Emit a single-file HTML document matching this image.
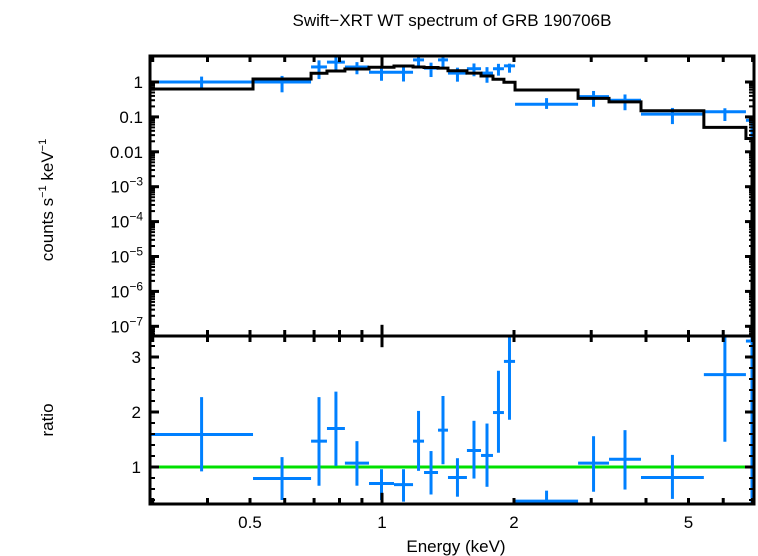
<!DOCTYPE html>
<html><head><meta charset="utf-8"><style>
body{margin:0;background:#fff;}
svg{display:block;font-family:"Liberation Sans",sans-serif;}
</style></head><body>
<svg id="c" width="758" height="556"></svg>
<script>
// bin edges (keV) and data
const binLo=[0.296,0.508,0.689,0.749,0.823,0.934,1.065,1.177,1.247,1.342,1.414,1.562,1.682,1.791,1.897,2.011,2.80,3.294,3.896,5.42,6.76];
const binHi=[0.508,0.689,0.749,0.823,0.934,1.065,1.177,1.247,1.342,1.414,1.562,1.682,1.791,1.897,2.011,2.80,3.294,3.896,5.42,6.76,7.3];
const fluxVals=[1.0,1.0,2.7,3.7,2.7,1.9,1.9,4.3,2.5,4.3,1.8,2.4,1.8,2.4,2.9,0.23,0.38,0.30,0.12,0.14,0.08];
const modelVals=[0.63,1.22,1.78,2.07,2.36,2.64,2.87,2.7,2.6,2.5,2.1,1.8,1.49,1.2,0.98,0.59,0.34,0.27,0.15,0.050,0.024];
const ratioVals=[1.59,0.79,1.47,1.70,1.07,0.70,0.68,1.47,0.90,1.67,0.81,1.30,1.21,1.99,2.92,0.38,1.07,1.14,0.81,2.68,3.29];
const ratioHi=[2.27,1.18,2.27,2.37,1.47,0.96,0.96,2.02,1.29,2.29,1.16,1.84,1.79,2.75,3.38,0.57,1.56,1.67,1.22,3.38,3.5];
const ratioLo=[0.92,0.40,0.66,1.02,0.66,0.40,0.37,0.93,0.50,1.05,0.46,0.79,0.64,1.26,1.86,0.28,0.55,0.59,0.42,1.46,0.0];
const xTicks=[0.5,1,2,5];
const xTickLabels=["0.5","1","2","5"];
const yTickExp=[0,-1,-2,-3,-4,-5,-6,-7];
const ratioTicks=[1,2,3];
</script>
<script>
const svg=document.getElementById('c');
const NS='http://www.w3.org/2000/svg';
const L=150,R=754,T=56,M=336,B=504;
const X=e=>382+438.5*Math.log10(e);
const Yt=v=>82-34.9*Math.log10(v);
const Yr=r=>467-55*(r-1);
const clampT=y=>Math.max(T,Math.min(M,y));
const clampB=y=>Math.max(M,Math.min(B,y));
const clampX=x=>Math.max(L,Math.min(R-2,x));
function el(tag,attrs,txt){const e=document.createElementNS(NS,tag);for(const k in attrs)e.setAttribute(k,attrs[k]);if(txt!==undefined)e.textContent=txt;svg.appendChild(e);return e;}
function line(x1,y1,x2,y2,c,w,name){const e=el('line',{x1,y1,x2,y2,stroke:c,'stroke-width':w});

return e;}
line(L,Yr(1),R,Yr(1),'#00e000',3,'unity-line');
for(let i=0;i<fluxVals.length;i++){
 const xl=clampX(X(binLo[i])),xr=clampX(X(binHi[i])),xc=clampX(X(Math.sqrt(binLo[i]*binHi[i])));
 const f=fluxVals[i],r=ratioVals[i];
 const fh=f*ratioHi[i]/r,fl=f*Math.max(ratioLo[i],0.0001)/r;
 line(xl,clampT(Yt(f)),xr,clampT(Yt(f)),'#0080ff',3,'flux-point-xerr');
 line(xc,clampT(Yt(fh)),xc,clampT(Yt(fl)),'#0080ff',3,'flux-point-yerr');
 line(xl,clampB(Yr(r)),xr,clampB(Yr(r)),'#0080ff',3,'ratio-point-xerr');
 line(xc,clampB(Yr(ratioHi[i])),xc,clampB(Yr(ratioLo[i])),'#0080ff',3,'ratio-point-yerr');
}
let d='';
for(let i=0;i<modelVals.length;i++){
 const xl=clampX(X(binLo[i])),xr=clampX(X(binHi[i])),y=Yt(modelVals[i]);
 d+=(i===0?'M':'L')+xl+' '+y+' L'+xr+' '+y+' ';
}
d+='L'+(R-2)+' '+(M);
const mp=el('path',{d,fill:'none',stroke:'#000','stroke-width':3});


const f1=el('rect',{x:L,y:T,width:R-L,height:M-T,fill:'none',stroke:'#000','stroke-width':3});


const f2=el('rect',{x:L,y:M,width:R-L,height:B-M,fill:'none',stroke:'#000','stroke-width':3});


const minor=[0.3,0.4,0.6,0.7,0.8,0.9,3,4,6,7];
[[T,1],[M,-1],[M,1],[B,-1]].forEach(([y,s])=>{
 xTicks.forEach(v=>{const len=(v===1)?(s>0?8:-8):(s>0?6:-6);line(X(v),y,X(v),y+len*(v===1?1.4:1),'#000',3,'x-major-tick');});
 minor.forEach(v=>{if(X(v)<R)line(X(v),y,X(v),y+(s>0?6:-6),'#000',3,'x-minor-tick');});
});
xTicks.forEach((v,i)=>{const t=el('text',{x:X(v),y:528,'font-size':17,'text-anchor':'middle'},xTickLabels[i]);

});
yTickExp.forEach(e=>{
 const y=Yt(Math.pow(10,e));
 line(L,y,L+9,y,'#000',3,'y-major-tick');line(R,y,R-9,y,'#000',3,'y-major-tick');
 for(let k=2;k<10;k++){const yy=Yt(k*Math.pow(10,e-1));if(yy<M&&yy>T){line(L,yy,L+5,yy,'#000',2,'y-minor-tick');line(R,yy,R-5,yy,'#000',2,'y-minor-tick');}}
 const t=el('text',{x:143,y:y+6,'font-size':17,'text-anchor':'end'});
 
 
 if(e===0)t.textContent='1';else if(e===-1)t.textContent='0.1';else if(e===-2)t.textContent='0.01';
 else{t.textContent='10';const s=document.createElementNS(NS,'tspan');s.setAttribute('dy','-7');s.setAttribute('font-size','12');s.textContent='−'+(-e);t.appendChild(s);}
});
ratioTicks.forEach(v=>{const y=Yr(v);line(L,y,L+9,y,'#000',3,'ratio-major-tick');line(R,y,R-9,y,'#000',3,'ratio-major-tick');
 const t=el('text',{x:141,y:y+6,'font-size':17,'text-anchor':'end'},String(v));
 
 });
for(let v=0.4;v<3.4;v+=0.2){const y=Yr(v);if(y>M+2&&y<B-2){line(L,y,L+5,y,'#000',2,'ratio-minor-tick');line(R,y,R-5,y,'#000',2,'ratio-minor-tick');}}
const tt=el('text',{x:452,y:26,'font-size':17,'text-anchor':'middle'},'Swift−XRT WT spectrum of GRB 190706B');


const xt=el('text',{x:456,y:552,'font-size':17,'text-anchor':'middle'},'Energy (keV)');


const yt=el('text',{x:0,y:0,'font-size':17,'text-anchor':'middle',transform:'translate(53,200) rotate(-90)'});


yt.innerHTML='counts s<tspan dy="-7" font-size="11">−1</tspan><tspan dy="7"> keV</tspan><tspan dy="-7" font-size="11">−1</tspan>';
const rt=el('text',{x:0,y:0,'font-size':17,'text-anchor':'middle',transform:'translate(53,420) rotate(-90)'},'ratio');


</script>
</body></html>
